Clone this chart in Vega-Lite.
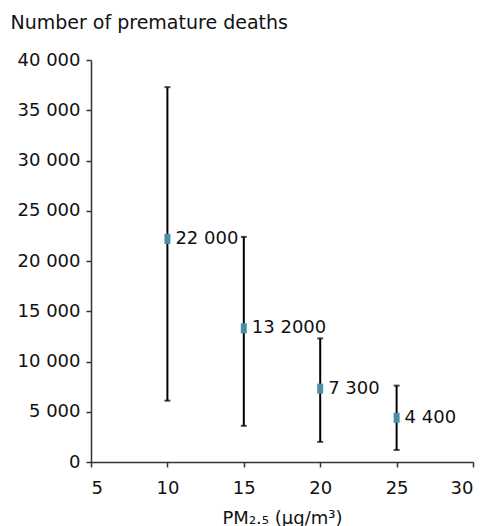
{
  "$schema": "https://vega.github.io/schema/vega-lite/v6.json",
  "width": 382,
  "height": 402,
  "autosize": "none",
  "padding": {"left": 91, "top": 60, "right": 21, "bottom": 64},
  "background": "white",
  "config": {
    "view": {"stroke": null},
    "font": "DejaVu Sans",
    "axis": {"grid": false, "domainColor": "#333333", "tickColor": "#333333", "labelColor": "#111111", "titleColor": "#111111", "labelFont": "DejaVu Sans", "titleFont": "DejaVu Sans", "labelFontSize": 18, "titleFontSize": 18, "titleFontWeight": "normal", "tickSize": 5, "domainWidth": 1.5, "tickWidth": 1.5}
  },
  "data": {
    "values": [
      {"pm": 10, "deaths": 22200, "low": 6100, "high": 37300, "label": "22 000"},
      {"pm": 15, "deaths": 13300, "low": 3600, "high": 22400, "label": "13 2000"},
      {"pm": 20, "deaths": 7300, "low": 2000, "high": 12300, "label": "7 300"},
      {"pm": 25, "deaths": 4400, "low": 1200, "high": 7600, "label": "4 400"}
    ]
  },
  "encoding": {
    "x": {
      "field": "pm", "type": "quantitative",
      "scale": {"domain": [5, 30], "nice": false, "zero": false},
      "axis": {"values": [5, 10, 15, 20, 25, 30], "title": "PM₂.₅ (µg/m³)", "labelPadding": 12, "titlePadding": 12}
    }
  },
  "layer": [
    {
      "mark": {"type": "rule", "color": "black", "strokeWidth": 2},
      "encoding": {
        "y": {
          "field": "low", "type": "quantitative",
          "scale": {"domain": [0, 40000], "nice": false},
          "axis": {"values": [0, 5000, 10000, 15000, 20000, 25000, 30000, 35000, 40000], "labelExpr": "replace(format(datum.value, ','), ',', ' ')", "title": "Number of premature deaths", "titleFontSize": 19, "titleAngle": 0, "titleAlign": "left", "titleBaseline": "middle", "titleX": -81, "titleY": -38, "labelPadding": 6}
        },
        "y2": {"field": "high"}
      }
    },
    {
      "mark": {"type": "tick", "orient": "horizontal", "color": "black", "size": 6, "thickness": 2},
      "encoding": {"y": {"field": "low", "type": "quantitative"}}
    },
    {
      "mark": {"type": "tick", "orient": "horizontal", "color": "black", "size": 6, "thickness": 2},
      "encoding": {"y": {"field": "high", "type": "quantitative"}}
    },
    {
      "mark": {"type": "tick", "orient": "vertical", "color": "#4a8fa6", "size": 10, "thickness": 6, "opacity": 1},
      "encoding": {"y": {"field": "deaths", "type": "quantitative"}}
    },
    {
      "mark": {"type": "text", "align": "left", "baseline": "middle", "dx": 8, "fontSize": 18, "color": "#111111", "font": "DejaVu Sans"},
      "encoding": {"y": {"field": "deaths", "type": "quantitative"}, "text": {"field": "label"}}
    }
  ]
}
